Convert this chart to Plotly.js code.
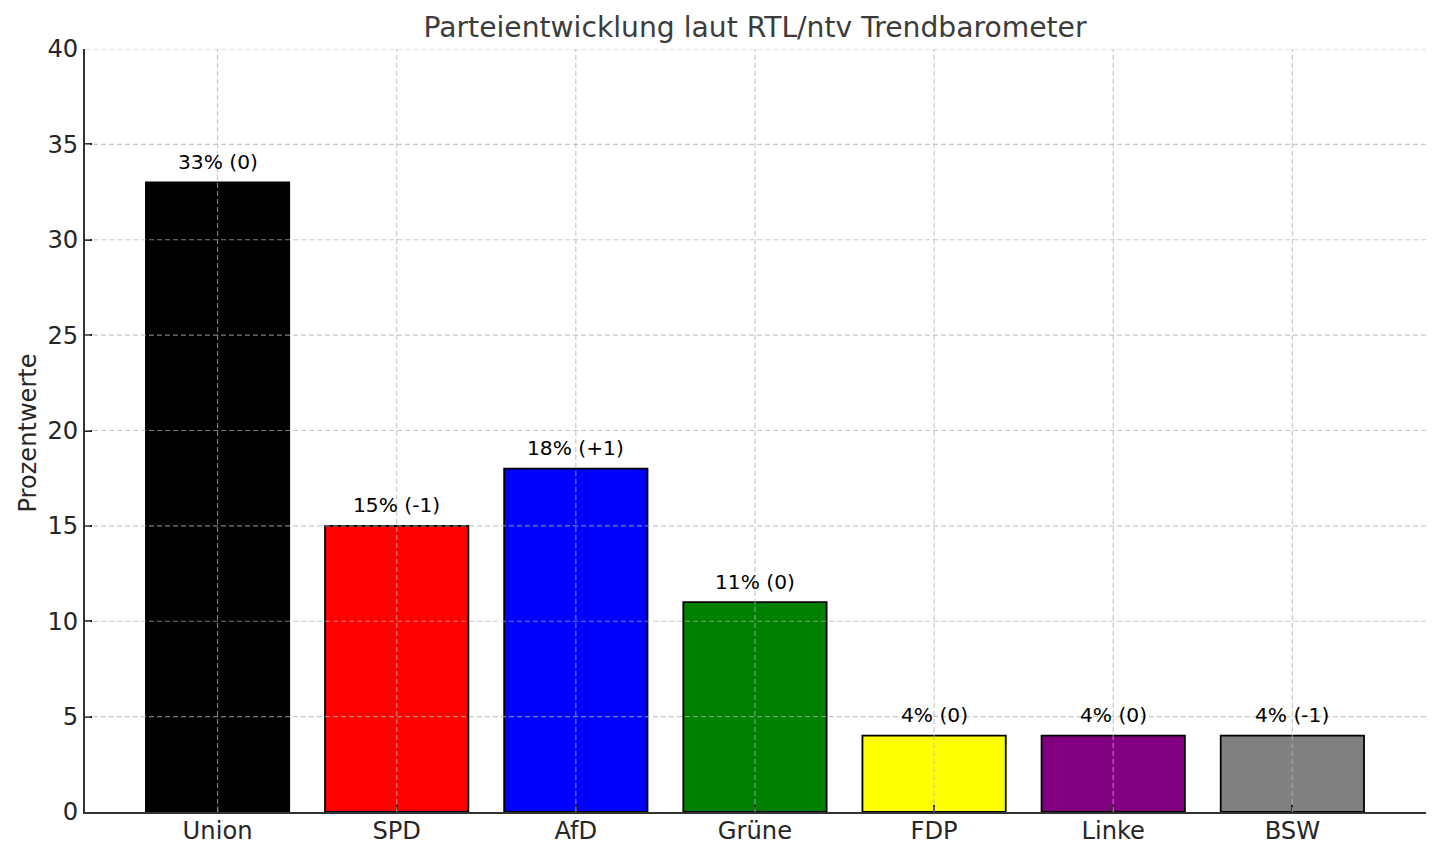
<!DOCTYPE html>
<html><head><meta charset="utf-8"><script src="https://cdn.plot.ly/plotly-3.0.1.min.js"></script>
<style>html,body{margin:0;padding:0;background:#fff}</style></head><body><div id="c" style="width:1440px;height:858px"></div>
<script>
const categories=["Union","SPD","AfD","Grüne","FDP","Linke","BSW"];
const values=[33,15,18,11,4,4,4];
const changes=["0","-1","+1","0","0","0","-1"];
const colors=["black","red","blue","green","yellow","purple","gray"];
const yTicks=[0,5,10,15,20,25,30,35,40];
const yTitle="Prozentwerte";
const labels=values.map((v,i)=>v+"% ("+changes[i]+")");
const font="DejaVu Sans";
const grid={color:"rgba(176,176,176,0.7)",width:1.2,dash:"5px,3px"};
const gridShapes=categories.map(c=>({type:"line",xref:"x",yref:"paper",x0:c,x1:c,y0:0,y1:1,line:grid,layer:"above"}))
 .concat(yTicks.slice(1).map(v=>({type:"line",xref:"paper",yref:"y",x0:0,x1:1,y0:v,y1:v,line:grid,layer:"above"})));
const notes=categories.map((c,i)=>({x:c,y:values[i],text:labels[i],showarrow:false,yanchor:"bottom",yshift:6.5,font:{family:font,size:20.2,color:"black"}}));
notes.push({xref:"paper",yref:"paper",x:0,y:0.5,xanchor:"center",yanchor:"middle",xshift:-58,yshift:-3,textangle:-90,text:yTitle,showarrow:false,font:{family:font,size:24.1,color:"#262626"}});
Plotly.newPlot("c",[{type:"bar",x:categories,y:values,width:0.8,marker:{color:colors,line:{color:"black",width:1.8}},hoverinfo:"skip"}],
{width:1440,height:858,margin:{l:85,r:14,t:49,b:45.5},paper_bgcolor:"white",plot_bgcolor:"white",showlegend:false,font:{family:font},
 title:{text:"Parteientwicklung laut RTL/ntv Trendbarometer",font:{family:font,size:28.2,color:"#3c3c3c"},x:0.5243,xanchor:"center",y:0.968,yanchor:"middle"},
 shapes:gridShapes,annotations:notes,
 xaxis:{range:[-0.74,6.746],type:"category",showgrid:false,showline:true,linecolor:"#333",linewidth:2,ticks:"inside",ticklen:7,tickwidth:1.8,tickcolor:"#222",ticklabelstandoff:-4,tickfont:{family:font,size:24.2,color:"#262626"},zeroline:false},
 yaxis:{range:[0,40],tickvals:yTicks,showgrid:false,showline:true,linecolor:"#333",linewidth:2,ticks:"inside",ticklen:7,tickwidth:1.8,tickcolor:"#222",tickfont:{family:font,size:24.2,color:"#262626"},zeroline:false}
},{displayModeBar:false});
</script></body></html>
